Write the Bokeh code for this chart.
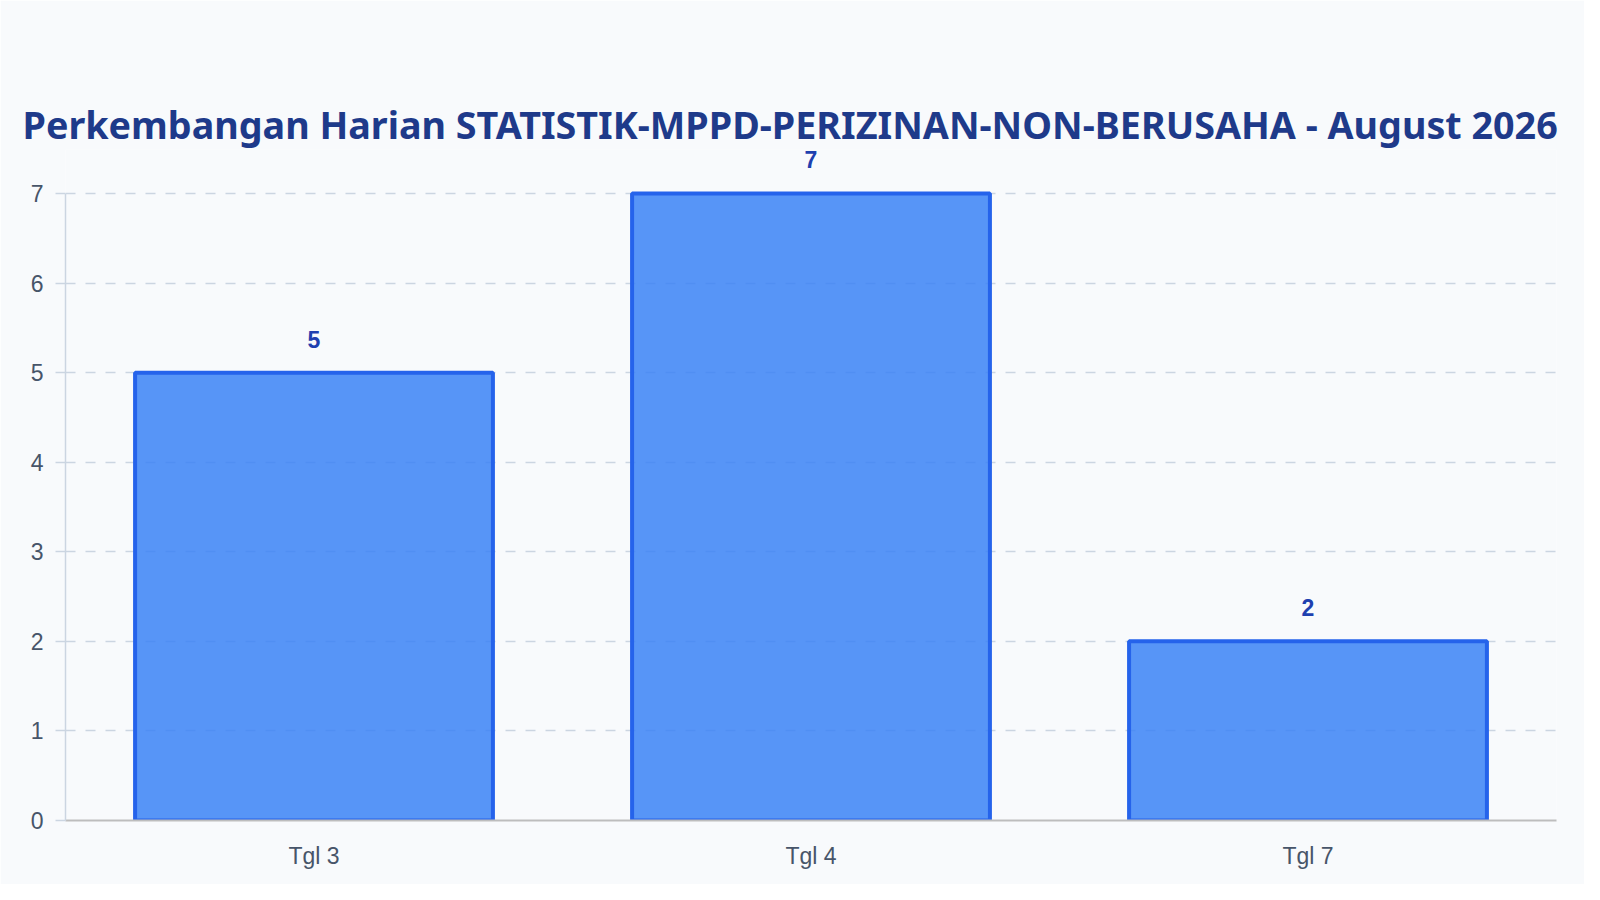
from bokeh.plotting import figure
from bokeh.models import ColumnDataSource, FactorRange, Range1d, LabelSet, FixedTicker
from bokeh.core.properties import value
from bokeh.embed import file_html
from bokeh.resources import INLINE

# data
days = ["Tgl 3", "Tgl 4", "Tgl 7"]
counts = [5, 7, 2]
count_labels = [str(c) for c in counts]
y_ticks = [0, 1, 2, 3, 4, 5, 6, 7]

src = ColumnDataSource(data=dict(day=days, count=counts, label=count_labels))

BG = "#f8fafc"

# headroom above 7 so the value label of the tallest bar is not clipped
p = figure(x_range=FactorRange(*days, range_padding=0), y_range=Range1d(0, 7.491),
           width=1584, height=884, output_backend="svg", toolbar_location=None,
           min_border_left=65, min_border_right=28, min_border_top=149, min_border_bottom=64,
           title="Perkembangan Harian STATISTIK-MPPD-PERIZINAN-NON-BERUSAHA - August 2026")
p.background_fill_color = BG
p.border_fill_color = BG
p.outline_line_color = None

p.title.text_font = "Noto Sans"
p.title.text_font_style = "bold"
p.title.text_font_size = "37.7px"
p.title.text_color = "#1e3a8a"
p.title.align = "left"
p.title.offset = -43
p.title.standoff = 0

p.vbar(x="day", top="count", width=0.72, source=src,
       fill_color="#3b82f6", fill_alpha=0.85, line_color="#2563eb", line_width=4)

labels = LabelSet(x="day", y="count", text="label", source=src, y_offset=25,
                  text_align="center", text_baseline="alphabetic",
                  text_font=value("Liberation Sans"), text_font_style="bold",
                  text_font_size="23px", text_color="#1e40af")
p.add_layout(labels)

# grid
p.xgrid.grid_line_color = None
p.ygrid.grid_line_color = "#cbd5e1"
p.ygrid.grid_line_width = 1.5
p.ygrid.grid_line_dash = "10 10"
p.yaxis.ticker = FixedTicker(ticks=y_ticks)

# y axis
p.yaxis.bounds = (0, 7)
p.yaxis.axis_line_color = "#cbd5e1"
p.yaxis.axis_line_width = 1.5
p.yaxis.major_tick_out = 20
p.yaxis.major_tick_in = 0
p.yaxis.major_tick_line_color = "#cbd5e1"
p.yaxis.major_tick_line_width = 1.5
p.yaxis.major_tick_line_dash = "10 10"
p.yaxis.major_tick_line_dash_offset = 10
p.yaxis.minor_tick_line_color = None
p.yaxis.major_label_standoff = 2
p.yaxis.major_label_text_font = "Liberation Sans"
p.yaxis.major_label_text_font_size = "23px"
p.yaxis.major_label_text_color = "#475569"

# x axis
p.xaxis.axis_line_color = "#bdbdbd"
p.xaxis.axis_line_width = 2
p.xaxis.major_tick_line_color = None
p.xaxis.minor_tick_line_color = None
p.xaxis.major_tick_out = 0
p.xaxis.major_tick_in = 0
p.xaxis.major_label_standoff = 22
p.xaxis.major_label_text_font = "Liberation Sans"
p.xaxis.major_label_text_font_size = "23px"
p.xaxis.major_label_text_color = "#475569"

open("out.html", "w").write(file_html(p, INLINE))
